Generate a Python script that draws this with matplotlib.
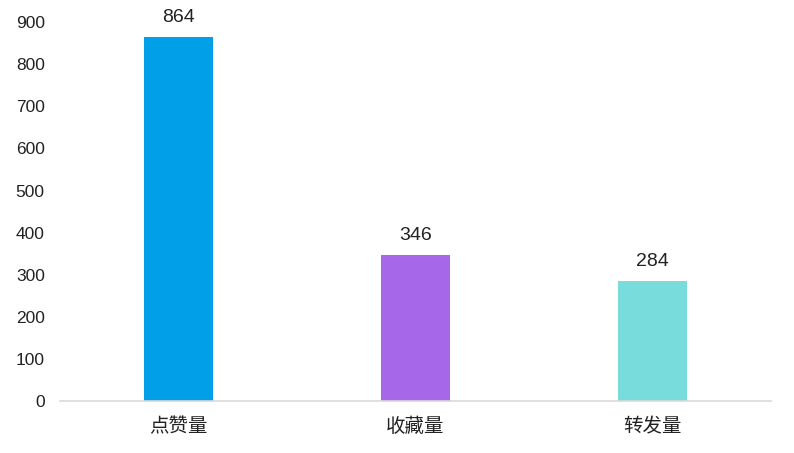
import matplotlib
matplotlib.use("Agg")
import matplotlib.pyplot as plt

plt.rcParams['font.family'] = ['Liberation Sans', 'Noto Sans CJK SC', 'DejaVu Sans']

categories = ['点赞量', '收藏量', '转发量']
values = [864, 346, 284]
colors = ['#009FE8', '#A667E8', '#78DCDC']
yticks = [0, 100, 200, 300, 400, 500, 600, 700, 800, 900]

fig = plt.figure(figsize=(7.94, 4.53), dpi=100)
ax = fig.add_axes([0.0756, 0.115, 0.895, 0.836])
x = list(range(len(categories)))
bars = ax.bar(x, values, width=0.29, color=colors)
for xi, v in zip(x, values):
    ax.text(xi, v + 27, str(v), ha='center', va='bottom', fontsize=14, color='#222222')
ax.set_xlim(-0.5, 2.5)
ax.set_ylim(0, 900)
ax.set_yticks(yticks)
ax.set_yticklabels([str(t) for t in yticks], fontsize=12.5)
ax.set_xticks(x)
ax.set_xticklabels(categories, family=['Noto Sans CJK SC', 'DejaVu Sans'], fontsize=14)
ax.tick_params(axis='both', length=0, colors='#222222')
ax.tick_params(axis='x', pad=11)
ax.tick_params(axis='y', pad=11)
for s in ['top', 'right', 'left']:
    ax.spines[s].set_visible(False)
ax.spines['bottom'].set_color('#D9D9D9')
ax.spines['bottom'].set_linewidth(1.2)
fig.savefig('out.png', dpi=100)
